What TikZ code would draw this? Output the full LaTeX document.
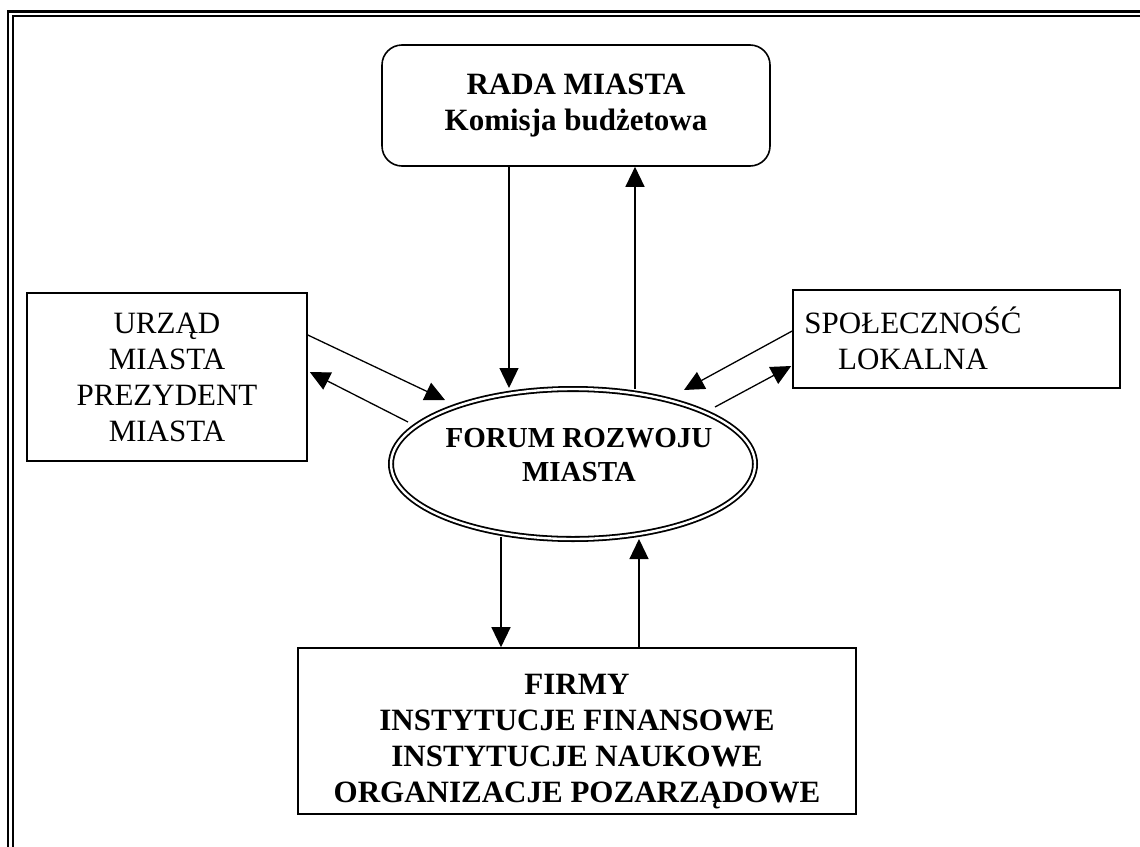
\documentclass[tikz,border=0pt]{standalone}
\usepackage{fontspec}
\setmainfont{Liberation Serif}
\usetikzlibrary{arrows.meta,shapes.geometric,calc}
\begin{document}
\begin{tikzpicture}[x=1pt,y=-1pt,
  box/.style={draw, line width=1.6pt, inner sep=0pt, align=center, font=\fontsize{31}{36}\selectfont},
  txt/.style={inner sep=0pt, align=center, font=\fontsize{31}{36}\selectfont},
  forumstyle/.style={ellipse, draw, double, line width=1.8pt, double distance=2.4pt, minimum width=364pt, minimum height=150pt, inner sep=0pt},
  arr/.style={line width=1.3pt, -{Triangle[length=20pt,width=19pt]}},
]
\useasboundingbox (0,0) rectangle (1140,846);
\clip (0,0) rectangle (1140,846);
% page frame (cut off at right and bottom)
\draw[line width=2.8pt] (8,11.3) rectangle (1200,900);
\draw[line width=2pt] (12.8,16.2) rectangle (1195,895);

% nodes
\node[box, rounded corners=20pt, minimum width=388pt, minimum height=121pt, font=\fontsize{31}{36}\selectfont\bfseries] (rada) at (576,105.5) {RADA MIASTA\\Komisja budżetowa};
\node[box, minimum width=280pt, minimum height=168pt] (urz) at (167,377) {URZĄD\\MIASTA\\PREZYDENT\\MIASTA};
\node[box, minimum width=327pt, minimum height=98pt] (spol) at (956.5,339) {};
\node[txt] (spoltxt) at (913,338) {SPOŁECZNOŚĆ\\LOKALNA};
\node[forumstyle] (forum) at (573,464) {};
\node[txt, font=\fontsize{29}{34}\selectfont\bfseries] (forumtxt) at (579,455) {FORUM ROZWOJU\\MIASTA};
\node[box, minimum width=558pt, minimum height=166pt] (firmy) at (577,731) {};
\node[txt, font=\fontsize{31}{36}\selectfont\bfseries] (firmytxt) at (577,742) {FIRMY\\INSTYTUCJE FINANSOWE\\INSTYTUCJE NAUKOWE\\ORGANIZACJE POZARZĄDOWE};

% connectors
\draw[arr] (509,0 |- rada.south) -- ($(forum.center)+(-64,-76)$);
\draw[arr] ($(forum.center)+(62,-75)$) -- (635,0 |- rada.south);
\draw[arr] ($(urz.east)+(0,-42)$) -- ($(forum.center)+(-128,-64)$);
\draw[arr] ($(forum.center)+(-165,-42)$) -- ($(urz.east)+(2,-5)$);
\draw[arr] ($(spol.west)+(0,-8)$) -- ($(forum.center)+(111,-74)$);
\draw[arr] ($(forum.center)+(142,-57)$) -- ($(spol.west)+(-1,27)$);
\draw[arr] ($(forum.center)+(-72,73)$) -- (501,0 |- firmy.north);
\draw[arr] (639,0 |- firmy.north) -- ($(forum.center)+(66,75)$);
\end{tikzpicture}
\end{document}
